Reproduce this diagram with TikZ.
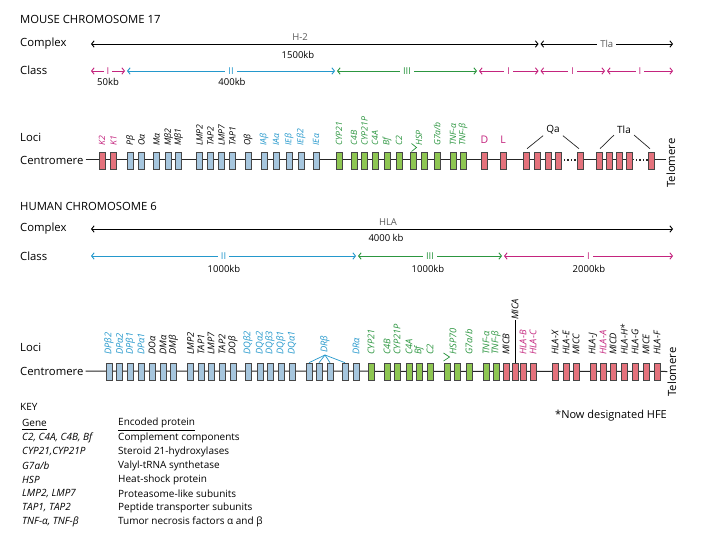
\documentclass[tikz,border=0pt]{standalone}
\usepackage{fontspec}
\setmainfont{Open Sans}
\usetikzlibrary{arrows.meta,calc}
\definecolor{mag}{RGB}{196,36,126}
\definecolor{cblue}{RGB}{36,152,204}
\definecolor{cgreen}{RGB}{44,150,64}
\definecolor{pinkbox}{RGB}{228,114,124}
\definecolor{bluebox}{RGB}{166,198,222}
\definecolor{greenbox}{RGB}{142,198,82}
\definecolor{boxline}{RGB}{70,70,70}
\definecolor{txtgray}{RGB}{90,90,90}
\tikzset{
  hd/.style={anchor=west, inner sep=0pt, font=\fontsize{11.3}{13}\selectfont},
  sm/.style={inner sep=0pt, font=\fontsize{9.5}{11}\selectfont},
  mid/.style={fill=white, inner xsep=3pt, inner ysep=1pt, font=\fontsize{9.5}{10}\selectfont},
  dbl/.style={line width=0.9pt, {Straight Barb[length=2.6pt,width=6.5pt]}-{Straight Barb[length=2.6pt,width=6.5pt]}},
  mlab/.style={rotate=90, anchor=west, inner sep=0pt, font=\fontsize{8.7}{10}\selectfont\itshape},
  hlab/.style={rotate=90, anchor=west, inner sep=0pt, font=\fontsize{9.3}{11}\selectfont\itshape},
  gbox/.style={draw=boxline, line width=0.6pt, minimum width=6pt, minimum height=17pt, inner sep=0pt},
  pbox/.style={gbox, fill=pinkbox},
  bbox/.style={gbox, fill=bluebox},
  grbox/.style={gbox, fill=greenbox},
  chrom/.style={draw=black!85, line width=1pt},
  dots/.style={draw=black!85, line width=1.3pt, dash pattern=on 1.3pt off 2.1pt},
  key/.style={anchor=west, inner sep=0pt, font=\fontsize{10}{12}\selectfont},
  keyi/.style={key, font=\fontsize{10}{12}\selectfont\itshape},
  thin/.style={line width=0.7pt, black!85}
}
\begin{document}
\begin{tikzpicture}[x=1pt,y=-1pt]
\fill[white] (0,0) rectangle (720,540);
\useasboundingbox (0,0) rectangle (720,540);

% ================= MOUSE =================
\node[hd] (mtitle) at (20,19) {MOUSE CHROMOSOME 17};
\node[hd] (mcomplex) at (20,44) {Complex};
\node[hd] (mclass) at (20,70) {Class};
\node[hd] (mloci) at (20,137) {Loci};
\node[hd] (mcen) at (20,160) {Centromere};

% complex
\coordinate (mh2a) at (91,44); \coordinate (mh2b) at (538.5,44);
\coordinate (mtlaa) at (540.5,44); \coordinate (mtlab) at (673,44);
\draw[dbl] (mh2a) -- (mh2b);
\node[sm, text=txtgray] (mh2) at (300,37) {H-2};
\node[sm] (m1500) at (298,55) {1500kb};
\draw[dbl] (mtlaa) -- node[mid, text=txtgray] (mtla) {Tla} (mtlab);

% class
\coordinate (mc1) at (91,71);  \coordinate (mc2) at (125,71);
\coordinate (mc3) at (127,71); \coordinate (mc4) at (335,71);
\coordinate (mc5) at (337,71); \coordinate (mc6) at (477,71);
\coordinate (mc7) at (479,71); \coordinate (mc8) at (538.5,71);
\coordinate (mc9) at (540.5,71); \coordinate (mc10) at (605,71);
\coordinate (mc11) at (607,71); \coordinate (mc12) at (673,71);
\draw[dbl, mag] (mc1) -- node[mid, text=mag] (mI1) {I} (mc2);
\draw[dbl, cblue] (mc3) -- node[mid, text=cblue] (mII) {II} (mc4);
\draw[dbl, cgreen] (mc5) -- node[mid, text=cgreen] (mIII) {III} (mc6);
\draw[dbl, mag] (mc7) -- node[mid, text=mag] (mI2) {I} (mc8);
\draw[dbl, mag] (mc9) -- node[mid, text=mag] (mI3) {I} (mc10);
\draw[dbl, mag] (mc11) -- node[mid, text=mag] (mI4) {I} (mc12);
\node[sm] (m50) at (108,82) {50kb};
\node[sm] (m400) at (232,82) {400kb};

% chromosome line
\node[rotate=90, inner sep=0pt, font=\fontsize{11.3}{13}\selectfont] (mtel) at (671,163) {Telomere};
\draw[chrom] ([xshift=2pt]mcen.east) -- (561.5,160);
\draw[dots] (564,160) -- (577,160);
\draw[chrom] (577,160) -- (634,160);
\draw[dots] (636,160) -- (648,160);
\draw[chrom] (648,160) -- (mtel.north |- 0,160);

% boxes
\foreach \x [count=\i] in {102,113.5} \node[pbox] (mK\i) at (\x,160.5) {};
\foreach \x [count=\i] in {130.5,141.5,156.5,168.5,178.5,199.5,210.5,221.5,232.5,248,264,276,289,301,316}
  \node[bbox] (mB\i) at (\x,160.5) {};
\foreach \x [count=\i] in {339,354,364.5,375,387,399,413,424.5,437,453,463}
  \node[grbox] (mG\i) at (\x,160.5) {};
\foreach \x [count=\i] in {484.5,503,526,537,548,558.5,580,599,609.5,619.5,629.5,651}
  \node[pbox] (mP\i) at (\x,160.5) {};

% labels
\foreach \x/\t/\c [count=\i] in {102/K2/mag,113.5/K1/mag,
  130.5/Pβ/black,141.5/Oα/black,156.5/Mα/black,168.5/Mβ2/black,178.5/Mβ1/black,
  199.5/LMP2/black,210.5/TAP2/black,221.5/LMP7/black,232.5/TAP1/black,248/Oβ/black,
  264/IAβ/cblue,276/IAα/cblue,289/IEβ/cblue,301/IEβ2/cblue,316/IEα/cblue,
  339/CYP21/cgreen,354/C4B/cgreen,364.5/CYP21P/cgreen,375/C4A/cgreen,387/Bf/cgreen,399/C2/cgreen,
  419/HSP/cgreen,453/TNF-α/cgreen,463/TNF-β/cgreen}
  \node[mlab, text=\c] (mL\i) at (\x,146) {\t};
\node[mlab, text=cgreen] (mLg7) at (437,146) {G7a/b};
\draw[cgreen, line width=0.7pt] (411.5,143.5) -- (416.5,147.5) -- (411.5,151.5);
\node[inner sep=0pt, font=\fontsize{10.5}{12}\selectfont, text=mag] (mD) at (484.5,140) {D};
\node[inner sep=0pt, font=\fontsize{10.5}{12}\selectfont, text=mag] (mLL) at (503,140) {L};
\node[sm, font=\fontsize{10}{12}\selectfont] (mqa) at (553,130) {Qa};
\node[sm, font=\fontsize{10}{12}\selectfont] (mtla2) at (624,130) {Tla};
\draw[thin] ($(mP3.north)+(1,-3)$) -- ($(mqa.south west)+(-3,1)$);
\draw[thin] ($(mqa.south east)+(3,1)$) -- ($(mP7.north)+(-1,-3)$);
\draw[thin] ($(mP8.north)+(1,-3)$) -- ($(mtla2.south west)+(-3,1)$);
\draw[thin] ($(mtla2.south east)+(3,1)$) -- ($(mP12.north)+(-1,-3)$);

% ================= HUMAN =================
\node[hd] (htitle) at (20,206) {HUMAN CHROMOSOME 6};
\node[hd] (hcomplex) at (20,229) {Complex};
\node[hd] (hclass) at (20,256) {Class};
\node[hd] (hloci) at (20,347) {Loci};
\node[hd] (hcen) at (20,371) {Centromere};

\coordinate (hh1) at (91,229); \coordinate (hh2) at (673,229);
\draw[dbl] (hh1) -- (hh2);
\node[sm, text=txtgray] (hhla) at (388,222) {HLA};
\node[sm] (h4000) at (386,238) {4000 kb};

\coordinate (hc1) at (91,256); \coordinate (hc2) at (356,256);
\coordinate (hc3) at (358,256); \coordinate (hc4) at (502,256);
\coordinate (hc5) at (504,256); \coordinate (hc6) at (673,256);
\draw[dbl, cblue] (hc1) -- node[mid, text=cblue] (hII) {II} (hc2);
\draw[dbl, cgreen] (hc3) -- node[mid, text=cgreen] (hIII) {III} (hc4);
\draw[dbl, mag] (hc5) -- node[mid, text=mag] (hI) {I} (hc6);
\node[sm] (h1000a) at (224,269) {1000kb};
\node[sm] (h1000b) at (428,269) {1000kb};
\node[sm] (h2000) at (589,269) {2000kb};

\node[rotate=90, inner sep=0pt, font=\fontsize{11.3}{13}\selectfont] (htel) at (672,372) {Telomere};
\draw[chrom] ([xshift=2pt]hcen.east) -- (htel.north |- 0,371.5);

\foreach \x [count=\i] in {109,119.5,130.5,141,152,163,173.5,190.5,201,211,222,233,248,260,270,281,292,309,319,330,345,356}
  \node[bbox] (hB\i) at (\x,371.5) {};
\foreach \x [count=\i] in {371,387,397,409,419,430,447,457,469,486,496}
  \node[grbox] (hG\i) at (\x,371.5) {};
\foreach \x [count=\i] in {506,515,523,533,555,566,576,593,603,613,624,635,646,657}
  \node[pbox] (hP\i) at (\x,371.5) {};

\foreach \x/\t/\c [count=\i] in {109/DPβ2/cblue,119.5/DPα2/cblue,130.5/DPβ1/cblue,141/DPα1/cblue,
  152/DOα/black,163/DMα/black,173.5/DMβ/black,190.5/LMP2/black,201/TAP1/black,211/LMP7/black,
  222/TAP2/black,233/DOβ/black,248/DQβ2/cblue,260/DQα2/cblue,270/DQβ3/cblue,281/DQβ1/cblue,
  292/DQα1/cblue,356/DRα/cblue,
  371/CYP21/cgreen,387/C4B/cgreen,397/CYP21P/cgreen,409/C4A/cgreen,419/Bf/cgreen,430/C2/cgreen,
  453/HSP70/cgreen,486/TNF-α/cgreen,496/TNF-β/cgreen,
  506/MICB/black,523/HLA-B/mag,533/HLA-C/mag,555/HLA-X/black,566/HLA-E/black,576/MICC/black,
  593/HLA-J/black,603/HLA-A/mag,613/MICD/black,624/HLA-H*/black,635/HLA-G/black,646/MICE/black,657/HLA-F/black}
  \node[hlab, text=\c] (hL\i) at (\x,355) {\t};
\node[hlab, text=cgreen] (hLg7) at (469,355) {G7a/b};
\draw[cgreen, line width=0.7pt] (443.5,353) -- (449.5,357) -- (443.5,361);
\node[hlab, text=cblue] (hDRb) at (325,353) {DRβ};
\foreach \j in {18,19,20,21}
  \draw[cblue, line width=0.7pt] ($(hDRb.west)+(0,2)$) -- (hB\j.north);
\node[hlab] (hMICA) at (515,320) {MICA};
\draw[line width=0.8pt] (hMICA.west) -- (hP2.north);

% ================= KEY =================
\node[key] (kkey) at (20,407) {KEY};
\node[key] (kgene) at (22,423) {Gene};
\node[key] (kprot) at (118,423) {Encoded protein};
\draw[line width=0.7pt] ([yshift=-2pt]kgene.south west) -- ([yshift=-2pt]kgene.south east);
\draw[line width=0.7pt] ([yshift=-2pt]kprot.south west) -- ([yshift=-2pt]kprot.south east);
\node[keyi] (kg1) at (22,438) {C2, C4A, C4B, Bf};
\node[keyi] (kg2) at (22,452) {CYP21,CYP21P};
\node[keyi] (kg3) at (22,466) {G7a/b};
\node[keyi] (kg4) at (22,480) {HSP};
\node[keyi] (kg5) at (22,494) {LMP2, LMP7};
\node[keyi] (kg6) at (22,508) {TAP1, TAP2};
\node[keyi] (kg7) at (22,522) {TNF-α, TNF-β};
\node[key] (kp1) at (118,438) {Complement components};
\node[key] (kp2) at (118,452) {Steroid 21-hydroxylases};
\node[key] (kp3) at (118,466) {Valyl-tRNA synthetase};
\node[key] (kp4) at (118,480) {Heat-shock protein};
\node[key] (kp5) at (118,494) {Proteasome-like subunits};
\node[key] (kp6) at (118,508) {Peptide transporter subunits};
\node[key] (kp7) at (118,522) {Tumor necrosis factors α and β};
\node[key, font=\fontsize{11}{12}\selectfont] (knote) at (555,416) {*Now designated HFE};
\end{tikzpicture}
\end{document}
